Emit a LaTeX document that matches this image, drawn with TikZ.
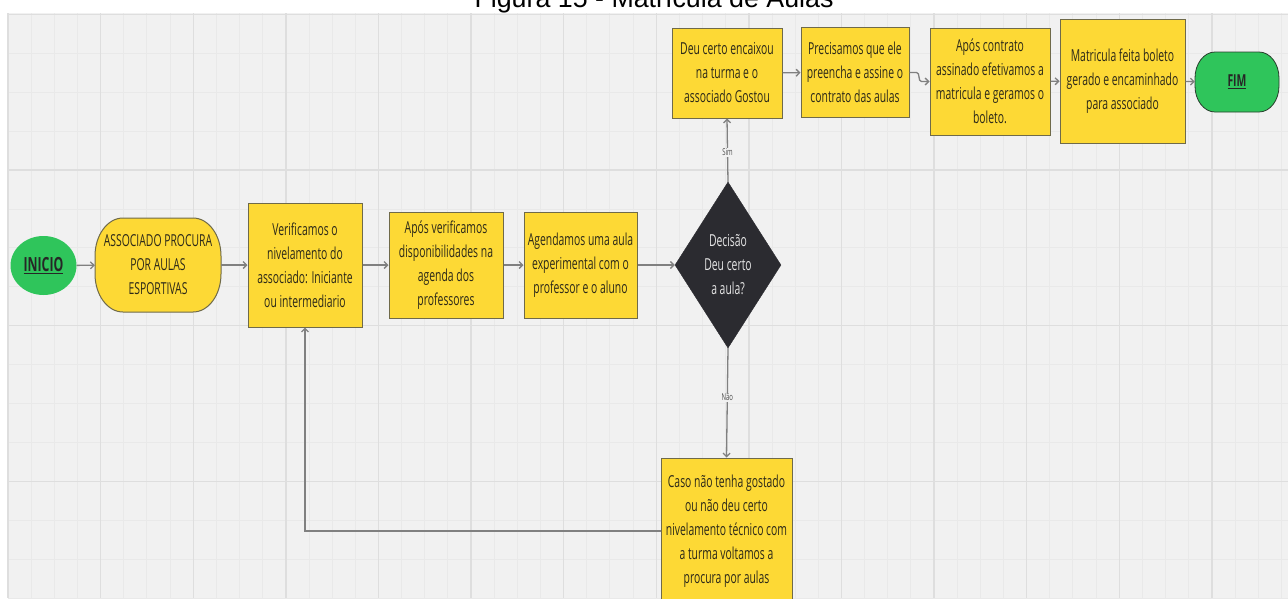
\documentclass[tikz,border=0pt]{standalone}
\usepackage{fontspec}
\newfontfamily\cond{Open Sans}[FakeStretch=0.63]
\newfontfamily\arialf{Liberation Sans}
\usetikzlibrary{shapes.geometric,arrows.meta,calc}
\definecolor{bgc}{HTML}{F1F1F1}
\definecolor{minorc}{HTML}{E9E9E9}
\definecolor{majorc}{HTML}{DEDEDE}
\definecolor{yel}{HTML}{FDD935}
\definecolor{yelb}{HTML}{6F6A4A}
\definecolor{grn}{HTML}{2FC55B}
\definecolor{grnb}{HTML}{3A5A40}
\definecolor{dia}{HTML}{2B2B30}
\definecolor{txt}{HTML}{2C2919}
\definecolor{linec}{HTML}{808080}
\tikzset{
  minorgrid/.style={draw=minorc, line width=0.9pt},
  majorgrid/.style={draw=majorc, line width=1.4pt},
  boxnode/.style={draw=yelb, line width=1pt, fill=yel, inner sep=0pt, align=center,
    text=txt, font=\cond\fontsize{16.5}{24}\selectfont},
  shapefill/.style={draw=yelb, line width=1pt, fill=yel},
  greenfill/.style={draw=grnb!70!black, line width=0.8pt, fill=grn},
  textonly/.style={inner sep=0pt, align=center, text=txt, font=\cond\fontsize{16.5}{24}\selectfont},
  endtext/.style={inner sep=0pt, align=center, text=black!85, font=\cond\bfseries\fontsize{16.5}{20}\selectfont},
  decnode/.style={diamond, aspect=0.64, fill=dia, draw=dia, inner sep=0pt, align=center,
    minimum width=106pt, minimum height=166pt, text=black!10, font=\cond\fontsize{16.5}{24}\selectfont},
  conn/.style={draw=linec, line width=1.3pt, -{Straight Barb[length=3.5pt,width=7pt]}},
  lab/.style={fill=bgc, inner sep=1pt, text=black!70, font=\cond\fontsize{9.5}{10}\selectfont},
}
\begin{document}
\begin{tikzpicture}[x=1pt,y=-1pt]
\useasboundingbox (0,0) rectangle (1288,598);
% canvas
\fill[bgc] (8,13) rectangle (1288,598);
\foreach \k in {0,...,55} {
  \pgfmathsetmacro\xx{8+23.15*\k}
  \draw[minorgrid] (\xx,13) -- (\xx,598);
}
\foreach \k in {0,...,15} {
  \pgfmathsetmacro\yy{14.5+38.9*\k}
  \draw[minorgrid] (8,\yy) -- (1288,\yy);
}
\foreach \k in {0,...,13} {
  \pgfmathsetmacro\xx{8+92.6*\k}
  \draw[majorgrid] (\xx,13) -- (\xx,598);
}
\foreach \k in {0,...,3} {
  \pgfmathsetmacro\yy{14.5+155.6*\k}
  \draw[majorgrid] (8,\yy) -- (1288,\yy);
}
% title
\node[anchor=base, inner sep=0pt, font=\arialf\fontsize{26.8}{30}\selectfont] (title) at (654,7) {Figura 15 - Matrícula de Aulas};

% start
\node[ellipse, fill=grn, minimum width=66pt, minimum height=59pt, inner sep=0pt,
  font=\cond\bfseries\fontsize{19.5}{22}\selectfont, text=black!85] (inicio) at (43.5,265.5) {\underline{INICIO}};

% associado stadium
\path[shapefill] (123,218) -- (193,218) arc[start angle=90, end angle=0, x radius=28pt, y radius=38pt]
  -- (221,274) arc[start angle=0, end angle=-90, x radius=28pt, y radius=38pt]
  -- (123,312) arc[start angle=270, end angle=180, x radius=28pt, y radius=38pt]
  -- (95,256) arc[start angle=180, end angle=90, x radius=28pt, y radius=38pt] -- cycle;
\node[textonly, minimum width=126pt, minimum height=94pt] (assoc) at (158,265) {ASSOCIADO PROCURA\\POR AULAS\\ESPORTIVAS};

\node[boxnode, minimum width=114pt, minimum height=124pt] (verif) at (305,265) {Verificamos o\\nivelamento do\\associado: Iniciante\\ou intermediario};
\node[boxnode, minimum width=114pt, minimum height=106pt] (apos1) at (446,265) {Após verificamos\\disponibilidades na\\agenda dos\\professores};
\node[boxnode, minimum width=113pt, minimum height=106pt] (agend) at (580.5,265) {Agendamos uma aula\\experimental com o\\professor e o aluno};
\node[decnode] (dec) at (728,265) {Decisão\\Deu certo\\a aula?};

\node[boxnode, minimum width=110pt, minimum height=90pt] (deu) at (727,73) {Deu certo encaixou\\na turma e o\\associado Gostou};
\node[boxnode, minimum width=108pt, minimum height=90pt] (prec) at (855,72.5) {Precisamos que ele\\preencha e assine o\\contrato das aulas};
\node[boxnode, minimum width=120pt, minimum height=107pt] (aposc) at (990,81.5) {Após contrato\\assinado efetivamos a\\matricula e geramos o\\boleto.};
\node[boxnode, minimum width=125pt, minimum height=124pt] (matr) at (1122.5,81) {Matricula feita boleto\\gerado e encaminhado\\para associado};

% FIM stadium
\path[greenfill] (1215,52) -- (1259,52) arc[start angle=90, end angle=0, x radius=20pt, y radius=26pt]
  -- (1279,86) arc[start angle=0, end angle=-90, x radius=20pt, y radius=26pt]
  -- (1215,112) arc[start angle=270, end angle=180, x radius=20pt, y radius=26pt]
  -- (1195,78) arc[start angle=180, end angle=90, x radius=20pt, y radius=26pt] -- cycle;
\node[endtext, minimum width=84pt, minimum height=60pt] (fim) at (1237,82) {\underline{FIM}};

\node[boxnode, minimum width=131pt, minimum height=146pt] (caso) at (726.5,531) {Caso não tenha gostado\\ou não deu certo\\nivelamento técnico com\\a turma voltamos a\\procura por aulas};

% connectors
\draw[conn] (inicio) -- (assoc);
\draw[conn] (assoc) -- (verif);
\draw[conn] (verif) -- (apos1);
\draw[conn] (apos1) -- (agend);
\draw[conn] (agend) -- (dec);
\draw[conn] (dec.north) -- node[lab, pos=0.47] {Sim} (deu.south);
\draw[conn] (dec.south) -- node[lab, pos=0.45] {Não} (caso.north);
\draw[conn] (caso.west) -| (verif.south);
\draw[conn] (deu) -- (prec);
\draw[conn] (prec.east) -- ++(7,0) to[out=0, in=180] ($(aposc.west)+(-8,0)$) -- (aposc.west);
\draw[conn] (aposc) -- (matr);
\draw[conn] (matr) -- (fim);
\end{tikzpicture}
\end{document}
